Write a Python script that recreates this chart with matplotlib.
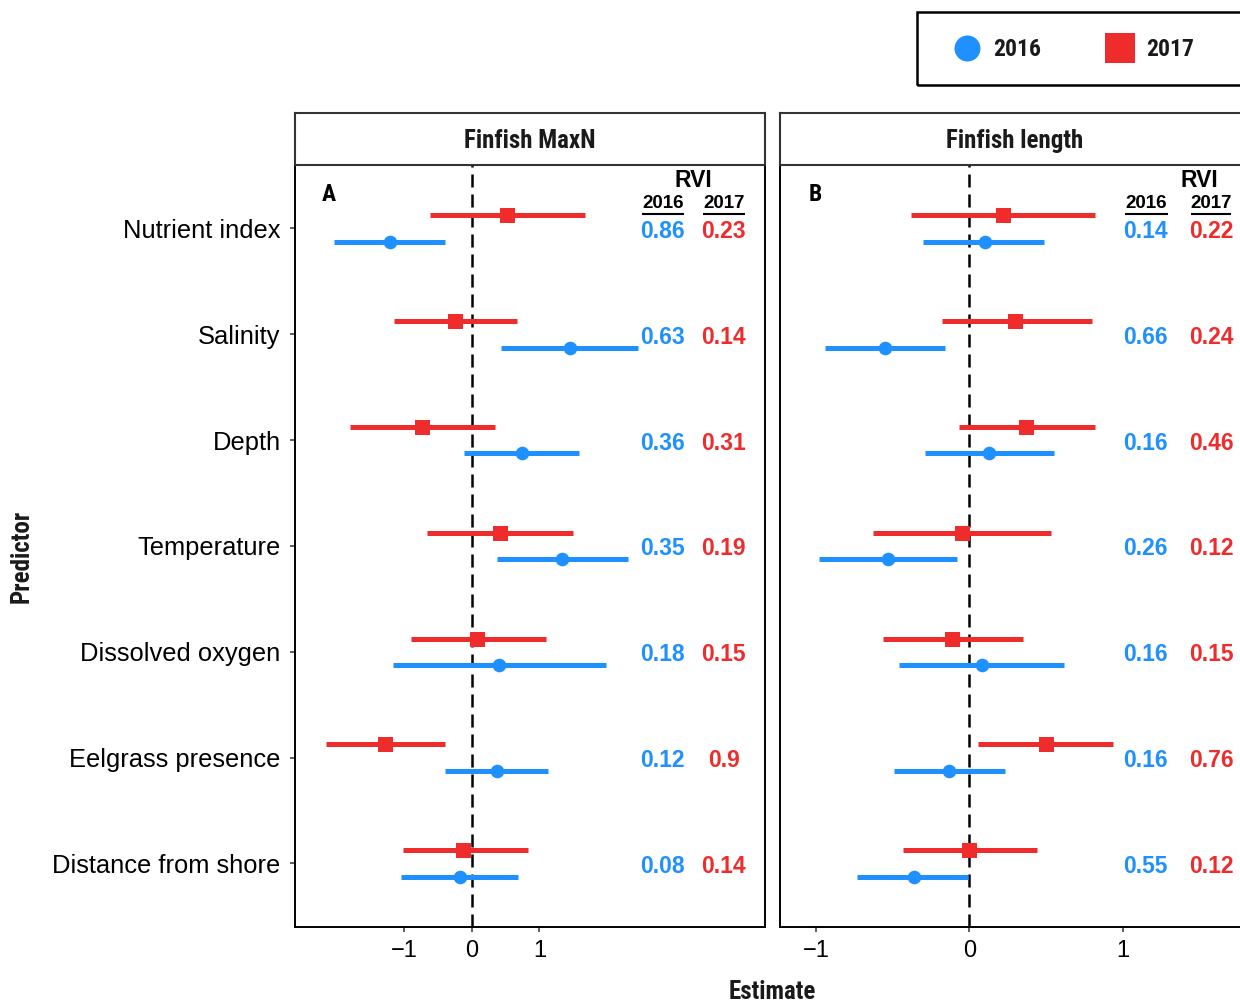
import matplotlib
matplotlib.use("Agg")
import matplotlib.pyplot as plt
from matplotlib.lines import Line2D
from matplotlib.patches import Rectangle
import numpy as np

# ---------------- data ----------------
predictors = ["Nutrient index", "Salinity", "Depth", "Temperature",
              "Dissolved oxygen", "Eelgrass presence", "Distance from shore"]
panel_titles = ["Finfish MaxN", "Finfish length"]
panel_tags = ["A", "B"]
years = ["2016", "2017"]

# Panel A : Finfish MaxN
maxn_est_2016 = [-1.21, 1.45, 0.74, 1.34, 0.41, 0.37, -0.18]
maxn_lo_2016 = [-2.03, 0.43, -0.12, 0.37, -1.17, -0.39, -1.05]
maxn_hi_2016 = [-0.39, 2.46, 1.59, 2.31, 1.99, 1.13, 0.68]
maxn_est_2017 = [0.52, -0.24, -0.73, 0.42, 0.08, -1.28, -0.13]
maxn_lo_2017 = [-0.61, -1.15, -1.80, -0.66, -0.90, -2.16, -1.02]
maxn_hi_2017 = [1.67, 0.67, 0.35, 1.50, 1.10, -0.39, 0.83]
maxn_rvi_2016 = ["0.86", "0.63", "0.36", "0.35", "0.18", "0.12", "0.08"]
maxn_rvi_2017 = ["0.23", "0.14", "0.31", "0.19", "0.15", "0.9", "0.14"]

# Panel B : Finfish length
len_est_2016 = [0.10, -0.55, 0.13, -0.53, 0.08, -0.13, -0.36]
len_lo_2016 = [-0.30, -0.94, -0.29, -0.98, -0.46, -0.49, -0.73]
len_hi_2016 = [0.49, -0.16, 0.55, -0.08, 0.62, 0.23, -0.01]
len_est_2017 = [0.22, 0.30, 0.37, -0.05, -0.11, 0.50, 0.00]
len_lo_2017 = [-0.38, -0.18, -0.07, -0.63, -0.56, 0.06, -0.43]
len_hi_2017 = [0.82, 0.80, 0.82, 0.53, 0.35, 0.94, 0.44]
len_rvi_2016 = ["0.14", "0.66", "0.16", "0.26", "0.16", "0.16", "0.55"]
len_rvi_2017 = ["0.22", "0.24", "0.46", "0.12", "0.15", "0.76", "0.12"]

x_ticks = [-1, 0, 1]

# ---------------- style ----------------
BLUE = "#1E90FF"
RED = "#EE2C2C"
COND = ["Roboto Condensed", "Roboto", "DejaVu Sans"]
SANS = ["Liberation Sans", "DejaVu Sans"]

W, H = 1240, 1005
fig = plt.figure(figsize=(W / 100, H / 100), dpi=100)


def fx(px):
    return px / W


def fy(py):
    return 1 - py / H


panel_top, panel_bot = 165, 927
panel_lefts = [295, 780]
panel_w = 470
xlims = [(-2.612, 4.335), (-1.234, 1.830)]

panels = [
    dict(e16=maxn_est_2016, l16=maxn_lo_2016, h16=maxn_hi_2016,
         e17=maxn_est_2017, l17=maxn_lo_2017, h17=maxn_hi_2017,
         r16=maxn_rvi_2016, r17=maxn_rvi_2017,
         col16=0.782, col17=0.912, rvi=0.848, und16=(0.738, 0.828), und17=(0.868, 0.957)),
    dict(e16=len_est_2016, l16=len_lo_2016, h16=len_hi_2016,
         e17=len_est_2017, l17=len_lo_2017, h17=len_hi_2017,
         r16=len_rvi_2016, r17=len_rvi_2017,
         col16=0.777, col17=0.918, rvi=0.8915, und16=(0.733, 0.825), und17=(0.875, 0.960)),
]

n = len(predictors)
ypos = np.arange(n, 0, -1).astype(float)  # Nutrient index on top
dodge = 0.125

for k, p in enumerate(panels):
    left = panel_lefts[k]
    ax = fig.add_axes([fx(left), fy(panel_bot), panel_w / W, (panel_bot - panel_top) / H])
    ax.set_xlim(*xlims[k])
    ax.set_ylim(0.4, n + 0.6)
    ax.axvline(0, color="black", lw=1.8, linestyle=(0, (5.2, 2.8)), zorder=1)

    # 2017 (red squares, upper)
    y17 = ypos + dodge
    ax.hlines(y17, p["l17"], p["h17"], color=RED, lw=3.6, zorder=2)
    ax.plot(p["e17"], y17, "s", color=RED, ms=10.8, mew=0, zorder=3)
    # 2016 (blue circles, lower)
    y16 = ypos - dodge
    ax.hlines(y16, p["l16"], p["h16"], color=BLUE, lw=3.6, zorder=2)
    ax.plot(p["e16"], y16, "o", color=BLUE, ms=9.8, mew=0, zorder=3)

    # RVI text
    for yi, a, b in zip(ypos, p["r16"], p["r17"]):
        ax.text(p["col16"], yi - 0.028, a, transform=ax.get_yaxis_transform(), ha="center",
                va="center", color=BLUE, fontsize=16.5, fontweight="bold", family=SANS)
        ax.text(p["col17"], yi - 0.028, b, transform=ax.get_yaxis_transform(), ha="center",
                va="center", color=RED, fontsize=16.5, fontweight="bold", family=SANS)
    ax.text(p["rvi"], 0.980, "RVI", transform=ax.transAxes, ha="center", va="center",
            fontsize=16.5, fontweight="bold", family=SANS)
    for (u0, u1), lab in zip([p["und16"], p["und17"]], years):
        ax.text((u0 + u1) / 2, 0.949, lab, transform=ax.transAxes, ha="center", va="center",
                fontsize=13.5, fontweight="bold", family=SANS)
        ax.plot([u0, u1], [0.936, 0.936], transform=ax.transAxes, color="black", lw=1.5,
                clip_on=False, solid_capstyle="butt")

    ax.text(0.073 if k == 0 else 0.0755, 0.961, panel_tags[k], transform=ax.transAxes,
            ha="center", va="center", fontsize=17, fontweight="bold", family=COND)

    # axes styling
    for s in ax.spines.values():
        s.set_linewidth(1.4)
        s.set_color("black")
    ax.set_xticks(x_ticks)
    ax.set_xticklabels([f"{t}".replace("-", "\u2212") for t in x_ticks], family=SANS, fontsize=17)
    ax.tick_params(axis="x", length=3.6, width=1.1, color="#333333", pad=6.0, labelcolor="black")
    if k == 0:
        ax.set_yticks(ypos)
        ax.set_yticklabels(predictors, family=SANS, fontsize=18.4)
        ax.tick_params(axis="y", length=3.6, width=1.1, color="#333333", pad=6.8, labelcolor="black")
    else:
        ax.set_yticks([])

    # strip
    sax = fig.add_axes([fx(left), fy(panel_top), panel_w / W, (panel_top - 113) / H])
    sax.set_xticks([])
    sax.set_yticks([])
    for s in sax.spines.values():
        s.set_linewidth(1.5)
        s.set_color("#333333")
    sax.text(0.5, 0.46, panel_titles[k], transform=sax.transAxes, ha="center", va="center",
             fontsize=18, fontweight="bold", family=COND, color="#1a1a1a")

# axis titles
fig.text(fx(772), fy(992), "Estimate", ha="center", va="center", fontsize=18,
         fontweight="bold", family=COND, color="#1a1a1a")
fig.text(fx(22), fy(556), "Predictor", ha="center", va="center", rotation=90, fontsize=18,
         fontweight="bold", family=COND, color="#1a1a1a")

# legend (drawn in figure pixel coordinates)
fig.patches.append(Rectangle((fx(917), fy(85)), (1265 - 917) / W, (85 - 12) / H,
                             transform=fig.transFigure, fill=False, ec="black", lw=1.8))
fig.lines.append(Line2D([fx(967)], [fy(48)], marker="o", color=BLUE, ms=18.7, mew=0,
                        transform=fig.transFigure))
fig.lines.append(Line2D([fx(1120)], [fy(48)], marker="s", color=RED, ms=21, mew=0,
                        transform=fig.transFigure))
fig.text(fx(993), fy(49), years[0], ha="left", va="center", fontsize=17, fontweight="bold",
         family=COND, color="#1a1a1a")
fig.text(fx(1146), fy(49), years[1], ha="left", va="center", fontsize=17, fontweight="bold",
         family=COND, color="#1a1a1a")

fig.savefig("out.png", dpi=100)
